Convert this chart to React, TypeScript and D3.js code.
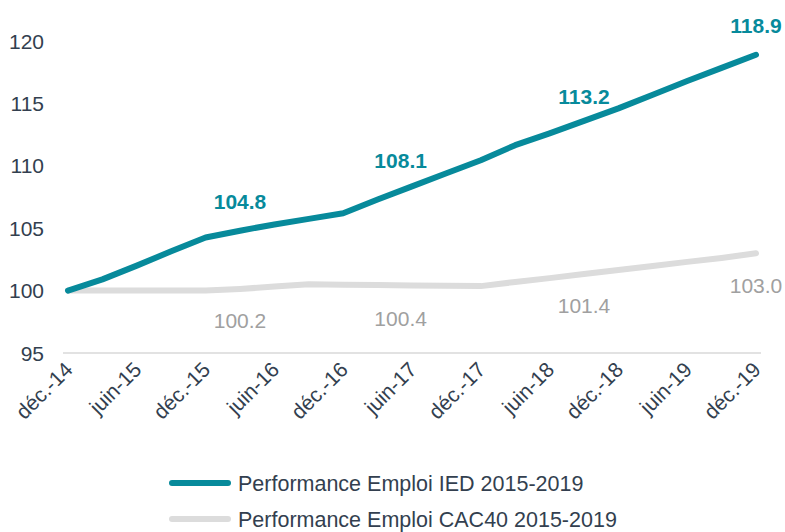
import React from 'react';
import * as d3 from 'd3';

// quarterly points, ticks shown every half-year
const quarters = [
  'déc.-14', 'mars-15', 'juin-15', 'sept.-15', 'déc.-15', 'mars-16', 'juin-16', 'sept.-16',
  'déc.-16', 'mars-17', 'juin-17', 'sept.-17', 'déc.-17', 'mars-18', 'juin-18', 'sept.-18',
  'déc.-18', 'mars-19', 'juin-19', 'sept.-19', 'déc.-19',
];
const tickLabels = ['déc.-14', 'juin-15', 'déc.-15', 'juin-16', 'déc.-16', 'juin-17', 'déc.-17', 'juin-18', 'déc.-18', 'juin-19', 'déc.-19'];

const iedValues = [100, 100.9, 102.0, 103.15, 104.25, 104.8, 105.3, 105.75, 106.2, 107.3, 108.35, 109.4, 110.45, 111.65, 112.6, 113.6, 114.6, 115.7, 116.8, 117.85, 118.9];
const cacValues = [100, 100, 100, 100, 100, 100.13, 100.32, 100.5, 100.47, 100.45, 100.41, 100.38, 100.36, 100.69, 101.0, 101.33, 101.65, 101.97, 102.3, 102.62, 103.0];

// value labels (same positions on both series, quarter index)
const labelAt = [5, 9.67, 15, 20];
const iedLabels = [104.8, 108.1, 113.2, 118.9];
const cacLabels = [100.2, 100.4, 101.4, 103.0];

const yTicks = [95, 100, 105, 110, 115, 120];

const seriesNames = ['Performance Emploi IED 2015-2019', 'Performance Emploi CAC40 2015-2019'];

const TEAL = '#078a9b';
const GREY = '#dcdcdc';
const TEXT = '#333f4f';
const FONT = 'Liberation Sans, Arial, sans-serif';

export default function App() {
  const width = 785;
  const height = 532;

  const x = d3.scaleLinear().domain([0, quarters.length - 1]).range([68, 756]);
  const y = d3.scaleLinear().domain([95, 120]).range([353, 41]);

  const line = d3
    .line<number>()
    .x((_, i) => x(i))
    .y((d) => y(d));

  return (
    <svg width={width} height={height} style={{ position: 'absolute', left: 0, top: 0 }} fontFamily={FONT}>
      <rect width={width} height={height} fill="#fff" />

      {/* y axis labels */}
      {yTicks.map((t) => (
        <text key={t} x={44} y={y(t)} dy="0.36em" textAnchor="end" fontSize={21} fill={TEXT}>
          {t}
        </text>
      ))}

      {/* base line */}
      <line x1={63} x2={761} y1={y(95)} y2={y(95)} stroke="#d9d9d9" strokeWidth={1.5} />

      {/* x axis labels */}
      {tickLabels.map((t) => {
        const xi = x(quarters.indexOf(t));
        return (
          <text
            key={t}
            transform={`translate(${xi + 6},${y(95) + 18}) rotate(-45)`}
            textAnchor="end"
            fontSize={21}
            fill={TEXT}
          >
            {t}
          </text>
        );
      })}

      <path d={line(cacValues) || ''} fill="none" stroke={GREY} strokeWidth={6} strokeLinecap="round" strokeLinejoin="round" />
      <path d={line(iedValues) || ''} fill="none" stroke={TEAL} strokeWidth={6} strokeLinecap="round" strokeLinejoin="round" />

      {iedLabels.map((v, i) => (
        <text key={'i' + i} x={x(labelAt[i])} y={y(v) - 22} textAnchor="middle" fontSize={21} fontWeight="bold" fill={TEAL}>
          {v.toFixed(1)}
        </text>
      ))}
      {cacLabels.map((v, i) => (
        <text key={'c' + i} x={x(labelAt[i])} y={y(v) + 40} textAnchor="middle" fontSize={21} fill="#a0a0a0">
          {v.toFixed(1)}
        </text>
      ))}

      {/* legend */}
      {seriesNames.map((name, i) => (
        <g key={name} transform={`translate(172,${483 + i * 36})`}>
          <line x1={0} x2={56} y1={0} y2={0} stroke={i === 0 ? TEAL : GREY} strokeWidth={6} strokeLinecap="round" />
          <text x={66} y={0} dy="0.36em" fontSize={21.5} fill={TEXT}>
            {name}
          </text>
        </g>
      ))}
    </svg>
  );
}
